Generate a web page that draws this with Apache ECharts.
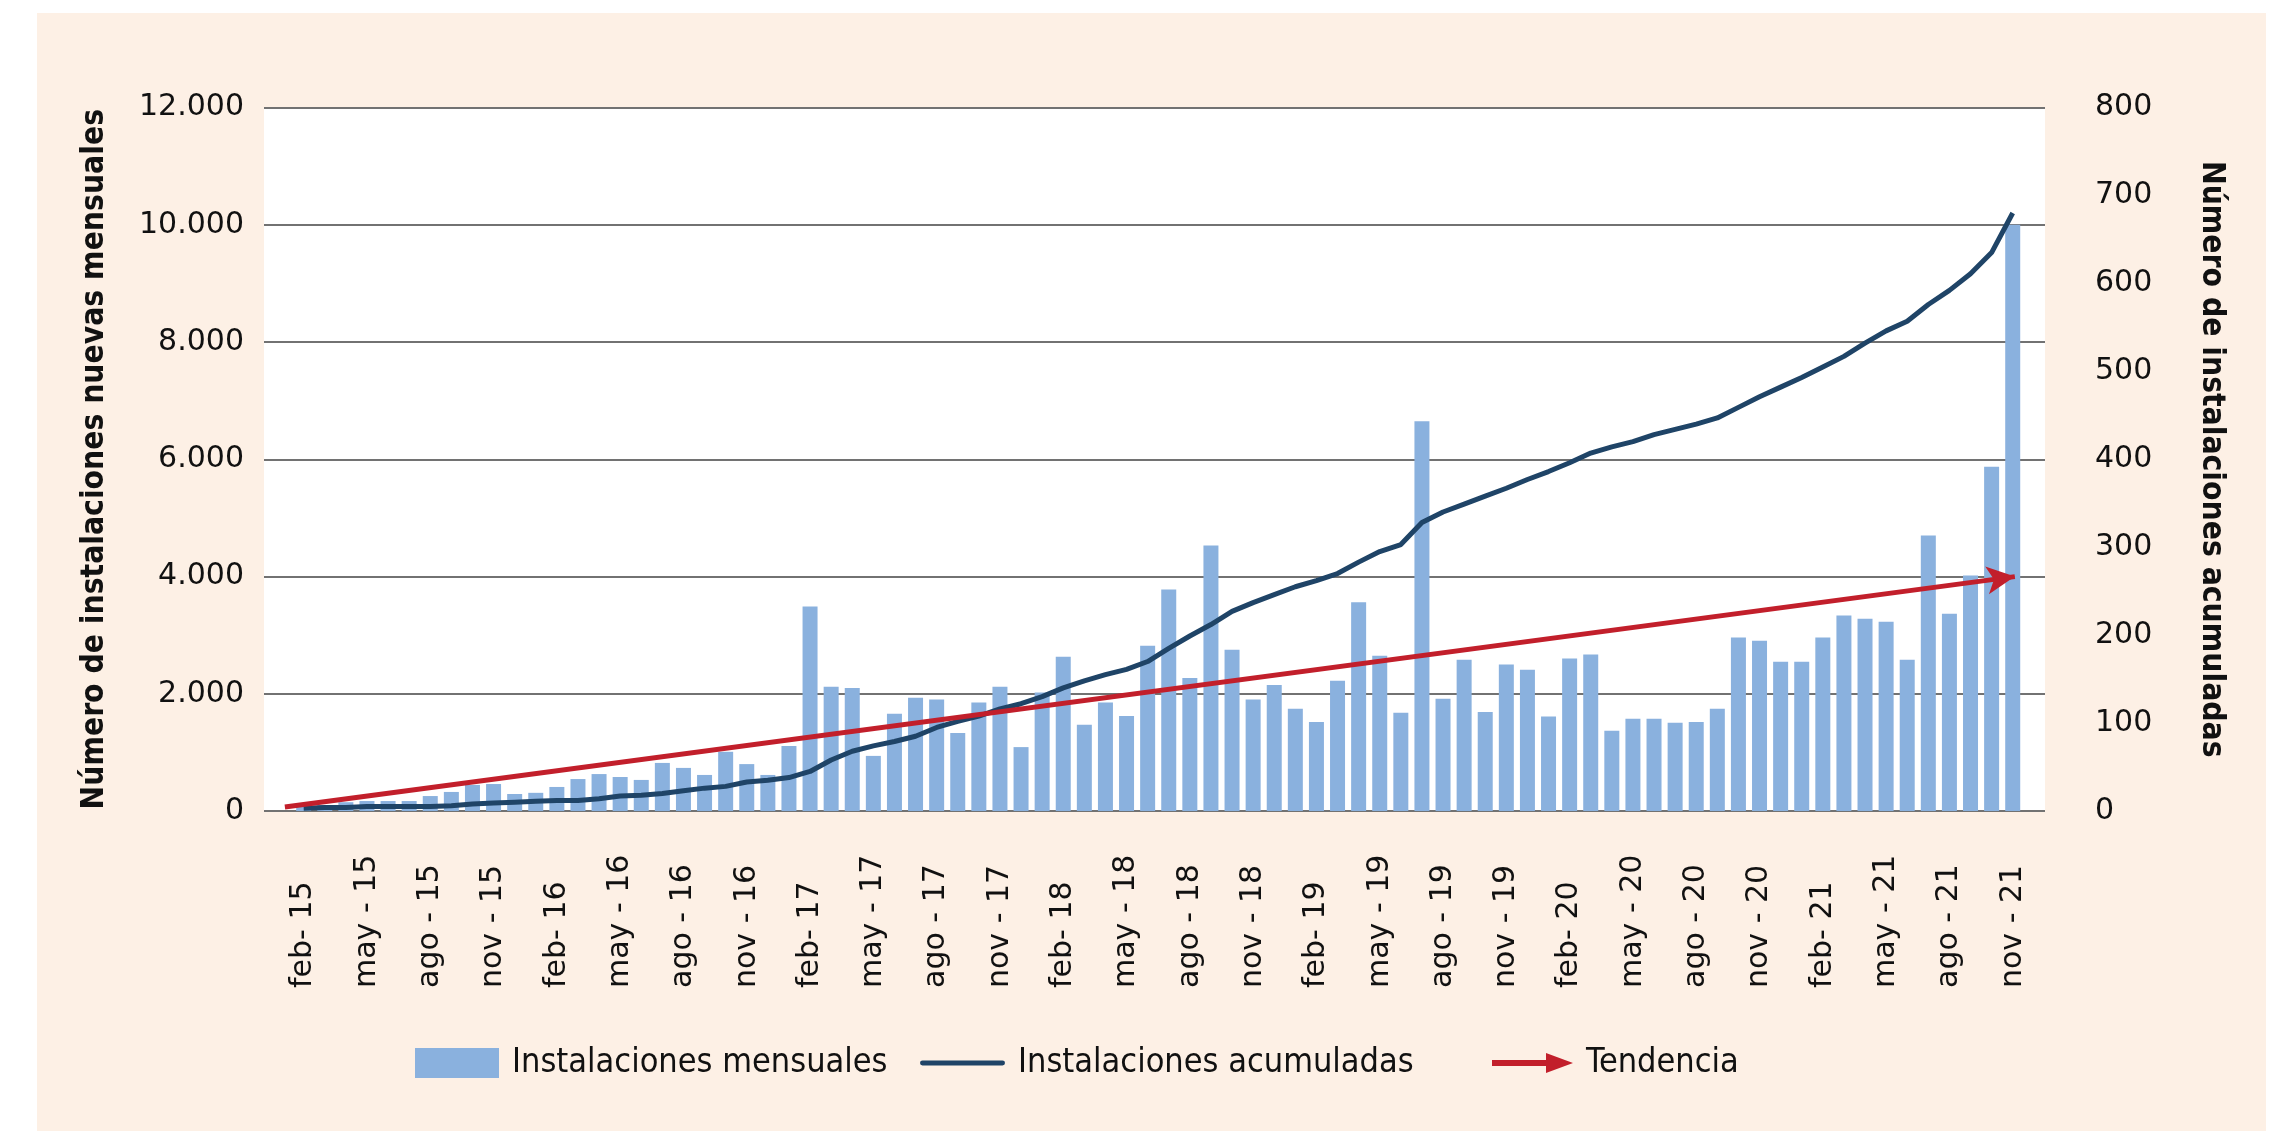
<!DOCTYPE html>
<html>
<head>
<meta charset="utf-8">
<script src="https://cdn.jsdelivr.net/npm/echarts@6/dist/echarts.min.js"></script>
<style>
  html, body { margin: 0; padding: 0; background: #ffffff; }
  #panel { position: absolute; left: 37px; top: 13px; width: 2229px; height: 1118px; background: #FDF0E5; }
  #chart { position: absolute; left: 0; top: 0; width: 2279px; height: 1131px; }
</style>
</head>
<body>
<div id="panel"></div>
<div id="chart"></div>
<script>
// Months, feb 2015 .. nov 2021
const categories = [
  'feb- 15', 'mar - 15', 'abr - 15', 'may - 15', 'jun - 15', 'jul - 15', 'ago - 15', 'sep - 15', 'oct - 15', 'nov - 15', 'dic - 15',
  'ene - 16', 'feb- 16', 'mar - 16', 'abr - 16', 'may - 16', 'jun - 16', 'jul - 16', 'ago - 16', 'sep - 16', 'oct - 16', 'nov - 16', 'dic - 16',
  'ene - 17', 'feb- 17', 'mar - 17', 'abr - 17', 'may - 17', 'jun - 17', 'jul - 17', 'ago - 17', 'sep - 17', 'oct - 17', 'nov - 17', 'dic - 17',
  'ene - 18', 'feb- 18', 'mar - 18', 'abr - 18', 'may - 18', 'jun - 18', 'jul - 18', 'ago - 18', 'sep - 18', 'oct - 18', 'nov - 18', 'dic - 18',
  'ene - 19', 'feb- 19', 'mar - 19', 'abr - 19', 'may - 19', 'jun - 19', 'jul - 19', 'ago - 19', 'sep - 19', 'oct - 19', 'nov - 19', 'dic - 19',
  'ene - 20', 'feb- 20', 'mar - 20', 'abr - 20', 'may - 20', 'jun - 20', 'jul - 20', 'ago - 20', 'sep - 20', 'oct - 20', 'nov - 20', 'dic - 20',
  'ene - 21', 'feb- 21', 'mar - 21', 'abr - 21', 'may - 21', 'jun - 21', 'jul - 21', 'ago - 21', 'sep - 21', 'oct - 21', 'nov - 21'
];

// New installations per month (left axis)
const monthly = [
  70, 100, 150, 170, 170, 170, 255, 325, 445, 460, 290,
  310, 410, 545, 630, 580, 530, 820, 735, 615, 1010, 800, 615,
  1110, 3490, 2120, 2100, 940, 1660, 1930, 1900, 1330, 1850, 2120, 1090,
  2020, 2630, 1470, 1850, 1620, 2820, 3780, 2270, 4530, 2750, 1900, 2150,
  1745, 1520, 2220, 3560, 2650, 1675, 6650, 1915, 2580, 1690, 2500, 2410,
  1610, 2600, 2670, 1370, 1575, 1575, 1505, 1520, 1745, 2960, 2905, 2545,
  2545, 2960, 3335, 3280, 3230, 2580, 4700, 3365, 4015, 5870, 10000
];

// Accumulated installations (right axis)
const cumulative = [
  3, 4, 4, 5, 5, 5, 5, 6, 8, 9, 10,
  11, 12, 12, 14, 17, 18, 20, 23, 26, 28, 33, 35,
  38, 45, 58, 68, 74, 79, 85, 95, 102, 108, 116, 122,
  130, 140, 148, 155, 161, 170, 185, 199, 212, 227, 237, 246,
  255, 262, 270, 283, 295, 303, 328, 340, 349, 358, 367, 377,
  386, 396, 407, 414, 420, 428, 434, 440, 447, 459, 471, 482,
  493, 505, 517, 532, 546, 557, 576, 592, 611, 635, 680
];

// Trend arrow: [month position, installations per month]
const trendStart = [-0.89, 68];
const trendEnd = [81.1, 3998];

// Labelled months on the horizontal axis
const xTickLabels = [
  'feb- 15', 'may - 15', 'ago - 15', 'nov - 15', 'feb- 16', 'may - 16', 'ago - 16', 'nov - 16',
  'feb- 17', 'may - 17', 'ago - 17', 'nov - 17', 'feb- 18', 'may - 18', 'ago - 18', 'nov - 18',
  'feb- 19', 'may - 19', 'ago - 19', 'nov - 19', 'feb- 20', 'may - 20', 'ago - 20', 'nov - 20',
  'feb- 21', 'may - 21', 'ago - 21', 'nov - 21'
];

const seriesNames = ['Instalaciones mensuales', 'Instalaciones acumuladas', 'Tendencia'];
const axisTitles = ['Número de instalaciones nuevas mensuales', 'Número de instalaciones acumuladas'];

const C_BAR = '#8AB1DE', C_LINE = '#1F4467', C_TREND = '#C21F2B', C_GRID = '#727272', C_TEXT = '#111111';
const numFont = 'DejaVu Sans';
const condFont = "'DejaVu Sans Condensed', 'DejaVu Sans'";

const thousands = v => String(v).replace(/\B(?=(\d{3})+(?!\d))/g, '.');
const tickPositions = xTickLabels.map(l => categories.indexOf(l));

const chart = echarts.init(document.getElementById('chart'), null, { renderer: 'canvas' });

const legendBase = {
  top: 1041, itemWidth: 84, itemHeight: 30, itemGap: 0, selectedMode: false,
  textStyle: { fontFamily: condFont, fontSize: 34, color: C_TEXT, padding: [0, 0, 0, 8] }
};

chart.setOption({
  animation: false,
  backgroundColor: 'transparent',
  grid: {
    left: 264, right: 234, top: 107.5, bottom: 320,
    show: true, backgroundColor: '#ffffff', borderWidth: 0
  },
  legend: [
    Object.assign({}, legendBase, { left: 410, data: [{ name: seriesNames[0], icon: 'rect' }] }),
    Object.assign({}, legendBase, { left: 915, itemWidth: 85,
      data: [{ name: seriesNames[1], icon: 'path://M2,0 H83 A2,2 0 0 1 83,5 H2 A2,2 0 0 1 2,0 Z' }] }),
    Object.assign({}, legendBase, { left: 1487, itemWidth: 81,
      data: [{ name: seriesNames[2], icon: 'path://M0,7 L54,7 L54,0 L81,10 L54,20 L54,13 L0,13 Z' }] })
  ],
  xAxis: {
    type: 'value',
    min: -1.88, max: 82.53,
    axisLine: { show: false },
    axisTick: { show: false },
    splitLine: { show: false },
    axisLabel: {
      customValues: tickPositions,
      formatter: v => categories[Math.round(v)],
      rotate: 90, align: 'left', margin: 177,
      fontFamily: numFont, fontSize: 30, color: C_TEXT
    }
  },
  yAxis: [
    {
      type: 'value', min: 0, max: 12000, interval: 2000,
      name: axisTitles[0], nameLocation: 'middle', nameRotate: 90, nameGap: 153,
      nameTextStyle: { fontFamily: condFont, fontWeight: 'bold', fontSize: 31.5, color: C_TEXT },
      axisLine: { show: false }, axisTick: { show: false },
      splitLine: { show: true, lineStyle: { color: C_GRID, width: 2 } },
      axisLabel: { formatter: thousands, margin: 20, fontFamily: numFont, fontSize: 30, color: C_TEXT, padding: [8, 0, 0, 0] }
    },
    {
      type: 'value', min: 0, max: 800, interval: 100,
      name: axisTitles[1], nameLocation: 'middle', nameRotate: -90, nameGap: 150,
      nameTextStyle: { fontFamily: condFont, fontWeight: 'bold', fontSize: 31.5, color: C_TEXT },
      axisLine: { show: false }, axisTick: { show: false }, splitLine: { show: false },
      axisLabel: { margin: 50, fontFamily: numFont, fontSize: 30, color: C_TEXT, padding: [8, 0, 0, 0] }
    }
  ],
  series: [
    {
      name: seriesNames[0], type: 'bar', yAxisIndex: 0,
      barWidth: 15,
      itemStyle: { color: C_BAR },
      data: monthly.map((v, i) => [i, v])
    },
    {
      name: seriesNames[2], type: 'line', yAxisIndex: 0,
      color: C_TREND, itemStyle: { color: C_TREND },
      data: [],
      markLine: {
        silent: true, animation: false,
        symbol: ['none', 'arrow'], symbolSize: [21, 28],
        label: { show: false },
        lineStyle: { color: C_TREND, width: 5, type: 'solid' },
        emphasis: { disabled: true },
        data: [[{ coord: trendStart }, { coord: trendEnd }]]
      }
    },
    {
      name: seriesNames[1], type: 'line', yAxisIndex: 1,
      color: C_LINE, itemStyle: { color: C_LINE },
      symbol: 'none', smooth: false,
      lineStyle: { color: C_LINE, width: 5 },
      data: cumulative.map((v, i) => [i, v])
    }
  ]
});
</script>
</body>
</html>
